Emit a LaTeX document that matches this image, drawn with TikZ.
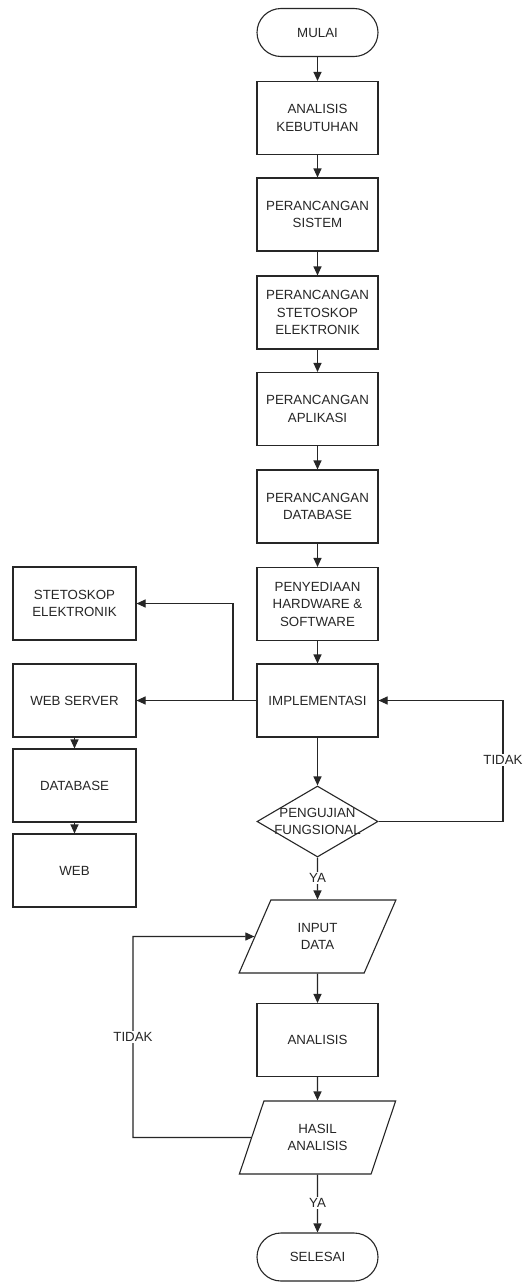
\documentclass[tikz,border=0pt]{standalone}
\usepackage{fontspec}
\setmainfont{Liberation Sans}
\usetikzlibrary{arrows.meta,shapes.geometric,calc}
\begin{document}
\begin{tikzpicture}[x=1pt,y=-1pt,
  every node/.style={font=\fontsize{13.3}{17.5}\selectfont, text=black!85},
  line/.style={draw=black!85, line width=1.1pt},
  arr/.style={line, -{Triangle[length=9pt,width=8pt]}},
  box/.style={line, rectangle, minimum width=121pt, minimum height=73pt, align=center, inner sep=0pt},
  lbox/.style={box, minimum width=123pt},
  term/.style={line, rectangle, rounded corners=24pt, minimum width=121pt, minimum height=48pt, inner sep=0pt, align=center},
  io/.style={line, trapezium, trapezium left angle=63, trapezium right angle=117, trapezium stretches=true, minimum width=157pt, minimum height=73pt, inner sep=0pt, align=center},
  dia/.style={line, diamond, minimum width=121pt, minimum height=71pt, inner sep=0pt},
  lbl/.style={fill=white, inner sep=1pt}]
\useasboundingbox (0,0) rectangle (524,1282);
\fill[white] (0,0) rectangle (524,1282);

\node[term] (mulai) at (317.5,32.5) {MULAI};
\node[box] (b1) at (317.5,118) {ANALISIS\\KEBUTUHAN};
\node[box] (b2) at (317.5,214.5) {PERANCANGAN\\SISTEM};
\node[box] (b3) at (317.5,312.5) {PERANCANGAN\\STETOSKOP\\ELEKTRONIK};
\node[box] (b4) at (317.5,409) {PERANCANGAN\\APLIKASI};
\node[box] (b5) at (317.5,506.5) {PERANCANGAN\\DATABASE};
\node[box] (b6) at (317.5,604) {PENYEDIAAN\\HARDWARE \&\\SOFTWARE};
\node[box] (impl) at (317.5,700.5) {IMPLEMENTASI};
\node[dia] (dec) at (317.5,821.5) {};
\node[align=center, inner sep=0pt] (dectxt) at (317.5,821.5) {PENGUJIAN\\FUNGSIONAL};
\node[io] (input) at (317.5,936.5) {INPUT\\DATA};
\node[box] (anal) at (317.5,1040) {ANALISIS};
\node[io] (hasil) at (317.5,1137.5) {HASIL\\ANALISIS};
\node[term] (selesai) at (317.5,1257) {SELESAI};

\node[lbox] (stet) at (74.5,603.5) {STETOSKOP\\ELEKTRONIK};
\node[lbox] (ws) at (74.5,700.5) {WEB SERVER};
\node[lbox] (db) at (74.5,785.5) {DATABASE};
\node[lbox] (web) at (74.5,870.5) {WEB};

\draw[arr] (mulai.south) -- (b1.north);
\draw[arr] (b1.south) -- (b2.north);
\draw[arr] (b2.south) -- (b3.north);
\draw[arr] (b3.south) -- (b4.north);
\draw[arr] (b4.south) -- (b5.north);
\draw[arr] (b5.south) -- (b6.north);
\draw[arr] (b6.south) -- (impl.north);
\draw[arr] (impl.south) -- (dec.north);

\coordinate (j) at (233,700.5);
\draw[line] (impl.west) -- (j);
\draw[arr] (j) -- (ws.east);
\draw[arr] (j) |- (stet.east);
\draw[arr] (ws.south) -- (db.north);
\draw[arr] (db.south) -- (web.north);

\coordinate (cr) at (503,700.5);
\draw[arr] (dec.east) -| (cr) -- (impl.east);
\node[lbl] (t1) at (503,760) {TIDAK};

\draw[arr] (dec.south) -- (input.north);
\node[lbl] (ya1) at (317.5,878) {YA};
\draw[arr] (input.south) -- (anal.north);
\draw[arr] (anal.south) -- (hasil.north);
\draw[arr] (hasil.south) -- (selesai.north);
\node[lbl] (ya2) at (317.5,1203) {YA};

\coordinate (cl) at (133,936.5);
\draw[arr] (hasil.west) -| (cl) -- (input.west);
\node[lbl] (t2) at (133,1037) {TIDAK};
\end{tikzpicture}
\end{document}
